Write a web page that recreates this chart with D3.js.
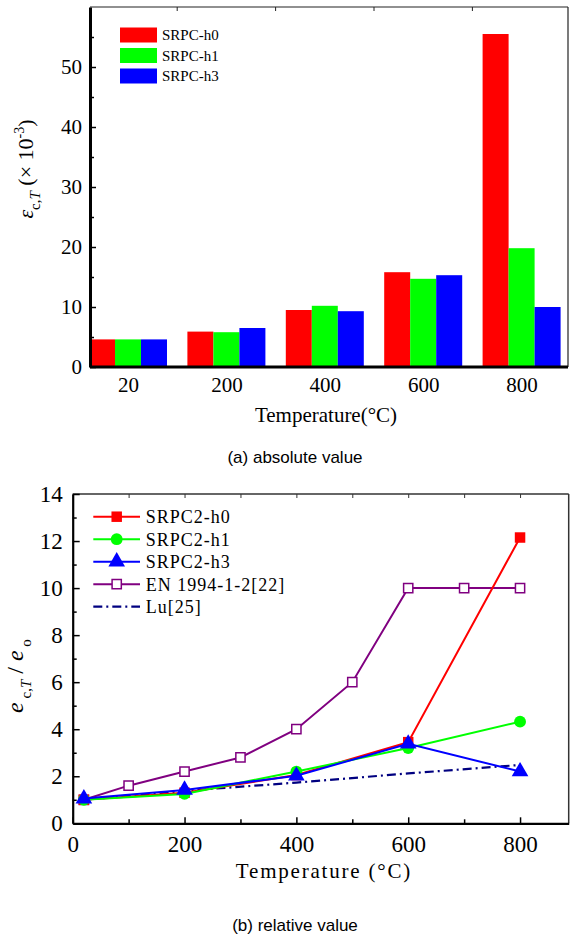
<!DOCTYPE html>
<html>
<head>
<meta charset="utf-8">
<script src="https://cdn.jsdelivr.net/npm/d3@7"></script>
<style>
  body { margin: 0; background: #fff; }
  svg { display: block; }
</style>
</head>
<body>
<svg id="chart" width="570" height="940"></svg>
<script>
// (a) absolute value
const temps = ['20', '200', '400', '600', '800'];
const seriesA = ['SRPC-h0', 'SRPC-h1', 'SRPC-h3'];
const h0Abs = [4.6, 5.9, 9.5, 15.8, 55.5];
const h1Abs = [4.6, 5.8, 10.2, 14.7, 19.8];
const h3Abs = [4.6, 6.5, 9.3, 15.3, 10.0];

// (b) relative value
const tempsRel = [20, 200, 400, 600, 800];
const h0Rel = [1.0, 1.3, 2.05, 3.45, 12.15];
const h1Rel = [1.0, 1.25, 2.2, 3.2, 4.32];
const h3Rel = [1.05, 1.42, 2.02, 3.38, 2.2];
const enTemps = [20, 100, 200, 300, 400, 500, 600, 700, 800];
const enRel = [1, 1.6, 2.2, 2.8, 4, 6, 10, 10, 10];
const luRel = [1.0, 1.38, 1.73, 2.12, 2.48];
const seriesB = ['SRPC2-h0', 'SRPC2-h1', 'SRPC2-h3', 'EN 1994-1-2[22]', 'Lu[25]'];

const serif = '"Liberation Serif", "Times New Roman", serif';
const sans = '"Liberation Sans", Arial, sans-serif';
const colA = ['#ff0000', '#00ff00', '#0000ff'];

const svg = d3.select('#chart');

// ---------- top chart ----------
{
  const left = 90, right = 568, top = 7, bottom = 367;
  const innerWidth = right - left, innerHeight = bottom - top;
  const g = svg.append('g').attr('transform', `translate(${left},${top})`);

  const xScale = d3.scalePoint().domain(temps).range([38, 431.6]);
  const yScale = d3.scaleLinear().domain([0, 60]).range([innerHeight, 0]);
  const sub = d3.scaleBand().domain(seriesA).range([-39, 39]);
  const vals = [h0Abs, h1Abs, h3Abs];

  seriesA.forEach((s, si) => {
    g.selectAll('.bar' + si)
      .data(temps)
      .enter().append('rect')
      .attr('x', d => xScale(d) + sub(s))
      .attr('y', (d, i) => yScale(vals[si][i]))
      .attr('width', sub.bandwidth())
      .attr('height', (d, i) => innerHeight - yScale(vals[si][i]))
      .style('fill', colA[si]);
  });

  // frame top/right
  g.append('line').attr('x1', 0).attr('x2', innerWidth).attr('y1', 0).attr('y2', 0)
    .style('stroke', '#222').style('stroke-width', 1.2);
  g.append('line').attr('x1', innerWidth).attr('x2', innerWidth).attr('y1', 0).attr('y2', innerHeight)
    .style('stroke', '#222').style('stroke-width', 1.2);
  // top ticks at category boundaries
  const step = xScale.step();
  temps.slice(0, -1).forEach(t => {
    g.append('line').attr('x1', xScale(t) + step / 2).attr('x2', xScale(t) + step / 2)
      .attr('y1', 0).attr('y2', 4).style('stroke', '#222').style('stroke-width', 1);
  });

  // y axis
  const yAxis = g.append('g')
    .call(d3.axisLeft(yScale).tickValues([0, 10, 20, 30, 40, 50]).tickSizeInner(-6).tickSizeOuter(0).tickPadding(8));
  yAxis.select('.domain').style('stroke-width', 3);
  yAxis.selectAll('.tick line').style('stroke-width', 1.5);
  yAxis.selectAll('text').style('font-family', serif).style('font-size', '21px').style('fill', '#000');
  g.append('g')
    .call(d3.axisLeft(yScale).tickValues([5, 15, 25, 35, 45, 55]).tickSizeInner(-4).tickSizeOuter(0).tickFormat(''))
    .call(a => a.select('.domain').remove())
    .selectAll('line').style('stroke-width', 1.5);

  // x axis
  const xAxis = g.append('g').attr('transform', `translate(0,${innerHeight})`)
    .call(d3.axisBottom(xScale).tickSize(0).tickPadding(10));
  xAxis.select('.domain').attr('d', `M0,0H${innerWidth}`).style('stroke-width', 3);
  xAxis.selectAll('text').style('font-family', serif).style('font-size', '21px').style('fill', '#000');

  g.append('text')
    .attr('x', 236).attr('y', 415)
    .style('text-anchor', 'middle').style('font-family', serif).style('font-size', '21px')
    .text('Temperature(°C)');

  // legend
  seriesA.forEach((s, i) => {
    const ly = 28 + i * 20.5;
    g.append('rect').attr('x', 30).attr('y', ly - 7.5).attr('width', 37).attr('height', 15).style('fill', colA[i]);
    g.append('text').attr('x', 72).attr('y', ly + 5)
      .style('font-family', serif).style('font-size', '15px').text(s);
  });

  // y label
  const yl = svg.append('text')
    .attr('transform', 'translate(33,169) rotate(-90)')
    .style('text-anchor', 'middle').style('font-family', serif).style('font-size', '22px');
  yl.append('tspan').style('font-style', 'italic').text('ε');
  yl.append('tspan').attr('dy', 7).style('font-size', '15px').text('c,');
  yl.append('tspan').style('font-size', '15px').style('font-style', 'italic').text('T');
  yl.append('tspan').attr('dy', -7).text(' (× 10');
  yl.append('tspan').attr('dy', -9).style('font-size', '14px').text('-3');
  yl.append('tspan').attr('dy', 9).text(')');

  svg.append('text')
    .attr('x', 295).attr('y', 463)
    .style('text-anchor', 'middle').style('font-family', sans).style('font-size', '17px')
    .text('(a) absolute value');
}

// ---------- bottom chart ----------
{
  const left = 72.7, right = 568.7, top = 494, bottom = 823.3;
  const innerWidth = right - left, innerHeight = bottom - top;
  const g = svg.append('g').attr('transform', `translate(${left},${top})`);

  const xScale = d3.scaleLinear().domain([0, 887]).range([0, innerWidth]);
  const yScale = d3.scaleLinear().domain([0, 14]).range([innerHeight, 0]);

  // frame top/right
  g.append('line').attr('x1', 0).attr('x2', innerWidth).attr('y1', 0).attr('y2', 0)
    .style('stroke', '#333').style('stroke-width', 1.5);
  g.append('line').attr('x1', innerWidth).attr('x2', innerWidth).attr('y1', 0).attr('y2', innerHeight)
    .style('stroke', '#333').style('stroke-width', 1.5);
  g.append('g')
    .call(d3.axisTop(xScale).tickValues(d3.range(100, 801, 100)).tickSizeInner(-4).tickSizeOuter(0).tickFormat(''))
    .call(a => a.select('.domain').remove())
    .selectAll('line').style('stroke', '#333').style('stroke-width', 1);

  // axes
  const xAxis = g.append('g').attr('transform', `translate(0,${innerHeight})`)
    .call(d3.axisBottom(xScale).tickValues([0, 200, 400, 600, 800]).tickSizeInner(-6).tickSizeOuter(0).tickPadding(12));
  xAxis.select('.domain').style('stroke-width', 2.2);
  xAxis.selectAll('.tick line').style('stroke-width', 1.5);
  xAxis.selectAll('text').style('font-family', serif).style('font-size', '23px').style('fill', '#000');
  g.append('g').attr('transform', `translate(0,${innerHeight})`)
    .call(d3.axisBottom(xScale).tickValues([100, 300, 500, 700]).tickSizeInner(-4).tickSizeOuter(0).tickFormat(''))
    .call(a => a.select('.domain').remove())
    .selectAll('line').style('stroke-width', 1.5);

  const yAxis = g.append('g')
    .call(d3.axisLeft(yScale).tickValues(d3.range(0, 15, 2)).tickSizeInner(-7).tickSizeOuter(0).tickPadding(10));
  yAxis.select('.domain').style('stroke-width', 2.2);
  yAxis.selectAll('.tick line').style('stroke-width', 1.5);
  yAxis.selectAll('text').style('font-family', serif).style('font-size', '23px').style('fill', '#000');
  g.append('g')
    .call(d3.axisLeft(yScale).tickValues(d3.range(1, 14, 2)).tickSizeInner(-4).tickSizeOuter(0).tickFormat(''))
    .call(a => a.select('.domain').remove())
    .selectAll('line').style('stroke-width', 1.5);

  const line = d3.line().x(d => xScale(d[0])).y(d => yScale(d[1]));
  const zip = (xs, ys) => xs.map((x, i) => [x, ys[i]]);

  const defs = [
    { name: seriesB[3], pts: zip(enTemps, enRel), color: '#800080', sym: d3.symbolSquare, size: 85, open: true, width: 2 },
    { name: seriesB[4], pts: zip(tempsRel, luRel), color: '#000080', sym: null, dash: '9,4,2,4', width: 2.2 },
    { name: seriesB[0], pts: zip(tempsRel, h0Rel), color: '#ff0000', sym: d3.symbolSquare, size: 110, width: 2 },
    { name: seriesB[1], pts: zip(tempsRel, h1Rel), color: '#00ff00', sym: d3.symbolCircle, size: 110, width: 2 },
    { name: seriesB[2], pts: zip(tempsRel, h3Rel), color: '#0000ff', sym: d3.symbolTriangle, size: 120, width: 2 }
  ];

  defs.forEach(s => {
    g.append('path').datum(s.pts)
      .attr('d', line)
      .style('fill', 'none').style('stroke', s.color).style('stroke-width', s.width)
      .style('stroke-dasharray', s.dash || null);
    if (s.sym) {
      g.selectAll(null).data(s.pts).enter().append('path')
        .attr('transform', d => `translate(${xScale(d[0])},${yScale(d[1])})`)
        .attr('d', d3.symbol().type(s.sym).size(s.size))
        .style('fill', s.open ? '#fff' : s.color)
        .style('stroke', s.color).style('stroke-width', s.open ? 1.5 : 0);
    }
  });

  // legend
  const order = [2, 3, 4, 0, 1];
  order.forEach((di, i) => {
    const s = defs[di];
    const ly = 22.7 + i * 22.5;
    g.append('line').attr('x1', 20.6).attr('x2', 67.3).attr('y1', ly).attr('y2', ly)
      .style('stroke', s.color).style('stroke-width', s.width).style('stroke-dasharray', s.dash || null);
    if (s.sym) {
      g.append('path').attr('transform', `translate(44,${ly})`)
        .attr('d', d3.symbol().type(s.sym).size(s.size))
        .style('fill', s.open ? '#fff' : s.color)
        .style('stroke', s.color).style('stroke-width', s.open ? 1.5 : 0);
    }
    g.append('text').attr('x', 73).attr('y', ly + 6.5)
      .style('font-family', serif).style('font-size', '18px').style('letter-spacing', '1px')
      .text(s.name);
  });

  g.append('text')
    .attr('x', 251.3).attr('y', 383.7)
    .style('text-anchor', 'middle').style('font-family', serif).style('font-size', '21px')
    .style('letter-spacing', '1.8px')
    .text('Temperature (°C)');

  // y label
  const yl = svg.append('text')
    .attr('transform', 'translate(23,676) rotate(-90)')
    .style('text-anchor', 'middle').style('font-family', serif).style('font-size', '24px');
  yl.append('tspan').style('font-style', 'italic').text('e');
  yl.append('tspan').attr('dy', 8).style('font-size', '15px').text(' c,');
  yl.append('tspan').style('font-size', '15px').style('font-style', 'italic').text('T');
  yl.append('tspan').attr('dy', -8).text(' / ');
  yl.append('tspan').style('font-style', 'italic').text('e');
  yl.append('tspan').attr('dy', 8).style('font-size', '15px').text(' o');

  svg.append('text')
    .attr('x', 295).attr('y', 931)
    .style('text-anchor', 'middle').style('font-family', sans).style('font-size', '17px')
    .text('(b) relative value');
}
</script>
</body>
</html>
